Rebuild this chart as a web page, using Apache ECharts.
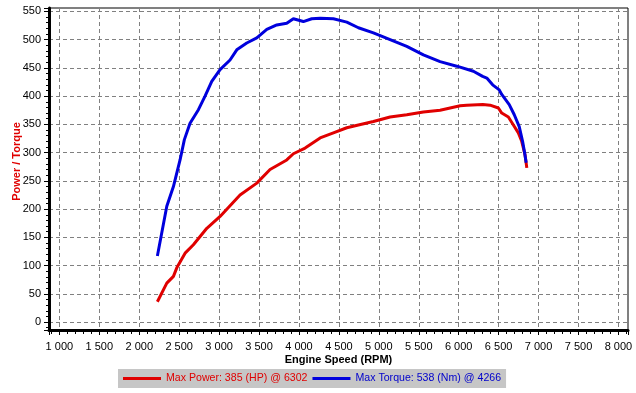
<!DOCTYPE html>
<html>
<head>
<meta charset="utf-8">
<script src="https://cdn.jsdelivr.net/npm/echarts@6/dist/echarts.min.js"></script>
<style>
html,body{margin:0;padding:0;background:#fff;}
#chart{width:636px;height:393px;}
</style>
</head>
<body>
<div id="chart"></div>
<script>
const powerName = 'Max Power: 385 (HP) @ 6302';
const torqueName = 'Max Torque: 538 (Nm) @ 4266';
const xAxisTitle = 'Engine Speed (RPM)';
const yAxisTitle = 'Power / Torque';

const powerRpm = [2227, 2345, 2428, 2470, 2574, 2678, 2846, 3012, 3262, 3472, 3638, 3847, 3930, 4077, 4265, 4431, 4599, 4744, 4932, 5141, 5350, 5558, 5767, 6018, 6101, 6302, 6393, 6497, 6539, 6622, 6685, 6747, 6789, 6831, 6853];
const powerHp  = [36, 69, 81, 96, 122, 137, 166, 187, 225, 246, 270, 287, 298, 308, 326, 335, 344, 349, 355, 363, 367, 372, 375, 383, 384, 385, 384, 379, 370, 363, 349, 335, 320, 296, 273];

const torqueRpm = [2227, 2345, 2428, 2511, 2565, 2636, 2741, 2824, 2908, 3012, 3137, 3221, 3346, 3472, 3597, 3722, 3847, 3930, 4055, 4160, 4266, 4431, 4599, 4744, 4932, 5141, 5350, 5558, 5767, 5976, 6184, 6300, 6352, 6425, 6508, 6539, 6633, 6696, 6758, 6800, 6825, 6845];
const torqueNm  = [117, 205, 240, 287, 323, 352, 376, 400, 426, 447, 464, 482, 494, 503, 518, 526, 529, 537, 532, 537, 538, 537, 531, 521, 512, 500, 488, 473, 461, 453, 444, 435, 432, 420, 411, 403, 385, 367, 346, 320, 300, 282];

const FONT = '"Liberation Sans", Arial, sans-serif';

function pairs(xs, ys) { return xs.map((x, i) => [x, ys[i]]); }
function fmtThousands(v) {
  v = Math.round(v);
  if (v >= 1000) return Math.floor(v / 1000) + ' ' + String(v % 1000).padStart(3, '0');
  return String(v);
}

const chart = echarts.init(document.getElementById('chart'), null, {renderer: 'canvas'});
chart.setOption({
  animation: false,
  backgroundColor: '#ffffff',
  grid: {
    left: 49, right: 8, top: 8, bottom: 63,
    containLabel: false,
    outerBoundsMode: 'none',
    show: true, borderColor: '#000', borderWidth: 1, backgroundColor: 'transparent'
  },
  legend: {
    left: 118, top: 369,
    padding: [4, 5, 4, 5],
    itemGap: 5,
    itemWidth: 38, itemHeight: 3,
    icon: 'rect',
    backgroundColor: '#c6c6c6',
    borderRadius: 0,
    selectedMode: false,
    textStyle: {fontFamily: FONT, fontSize: 10.6},
    data: [
      {name: powerName, textStyle: {color: '#e00000'}},
      {name: torqueName, textStyle: {color: '#0000cc'}}
    ]
  },
  xAxis: {
    type: 'value',
    min: 870, max: 8120,
    splitNumber: 14,
    name: xAxisTitle,
    nameLocation: 'middle',
    nameGap: 24,
    nameMoveOverlap: false,
    nameTextStyle: {fontFamily: FONT, fontSize: 11, fontWeight: 'bold', color: '#000'},
    axisLine: {show: true, onZero: false, lineStyle: {color: '#000', width: 3}},
    axisTick: {show: true, length: 5, lineStyle: {color: '#000', width: 1}},
    minorTick: {show: true, splitNumber: 5, length: 4, lineStyle: {color: '#000', width: 1}},
    axisLabel: {
      margin: 11, fontFamily: FONT, fontSize: 11, color: '#000',
      showMinLabel: false, showMaxLabel: false,
      formatter: fmtThousands
    },
    splitLine: {show: true, lineStyle: {color: '#808080', width: 1, type: [4, 3]}}
  },
  yAxis: {
    type: 'value',
    min: -14, max: 556,
    splitNumber: 11,
    name: yAxisTitle,
    nameLocation: 'middle',
    nameGap: 27,
    nameMoveOverlap: false,
    nameTextStyle: {fontFamily: FONT, fontSize: 11, fontWeight: 'bold', color: '#e00000', padding: [0, 0, 0, 15]},
    axisLine: {show: true, onZero: false, lineStyle: {color: '#000', width: 3}},
    axisTick: {show: true, length: 5, lineStyle: {color: '#000', width: 1}},
    minorTick: {show: true, splitNumber: 5, length: 3, lineStyle: {color: '#000', width: 1}},
    axisLabel: {
      margin: 8, fontFamily: FONT, fontSize: 11, color: '#000',
      showMinLabel: false, showMaxLabel: false
    },
    splitLine: {show: true, lineStyle: {color: '#808080', width: 1, type: [4, 3]}}
  },
  series: [
    {
      name: powerName, type: 'line', showSymbol: false, symbol: 'none',
      lineStyle: {color: '#e00000', width: 3}, itemStyle: {color: '#e00000'},
      data: pairs(powerRpm, powerHp)
    },
    {
      name: torqueName, type: 'line', showSymbol: false, symbol: 'none',
      lineStyle: {color: '#0000dd', width: 3}, itemStyle: {color: '#0000dd'},
      data: pairs(torqueRpm, torqueNm)
    }
  ]
});
</script>
</body>
</html>
